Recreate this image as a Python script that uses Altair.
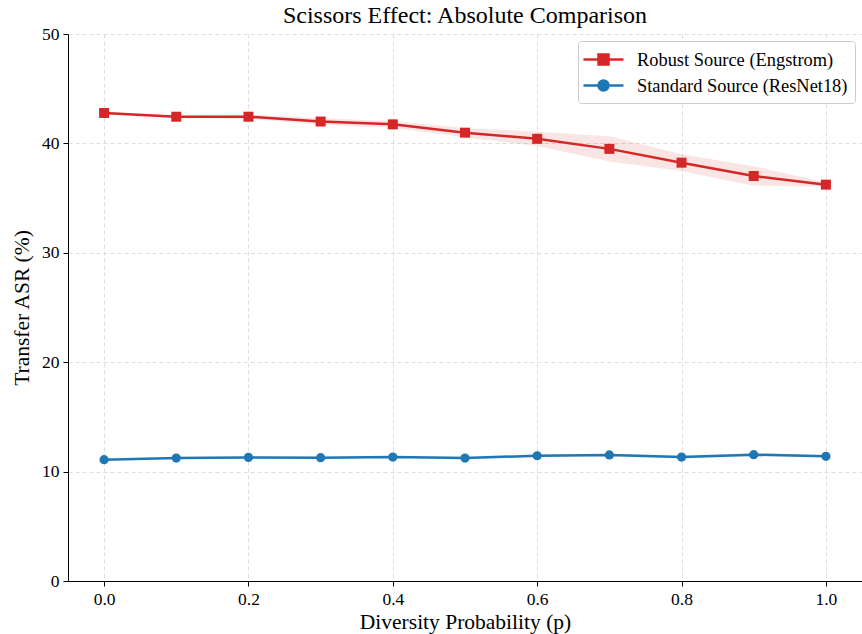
import altair as alt
import pandas as pd

p_vals = [0.0, 0.1, 0.2, 0.3, 0.4, 0.5, 0.6, 0.7, 0.8, 0.9, 1.0]
robust_mean = [42.78, 42.44, 42.44, 42.0, 41.74, 40.98, 40.42, 39.5, 38.24, 37.02, 36.23]
robust_std = [0.1, 0.12, 0.2, 0.3, 0.3, 0.42, 0.65, 1.15, 0.76, 0.88, 0.2]
standard_mean = [11.09, 11.24, 11.3, 11.27, 11.33, 11.24, 11.45, 11.52, 11.33, 11.55, 11.4]
standard_std = [0.08, 0.1, 0.1, 0.1, 0.1, 0.12, 0.12, 0.12, 0.15, 0.15, 0.12]

ROB = "Robust Source (Engstrom)"
STD = "Standard Source (ResNet18)"
series_names = [ROB, STD]
series_colors = ["#d62728", "#1f77b4"]

rows = []
for i, p in enumerate(p_vals):
    rows.append({"p": p, "series": ROB, "asr": robust_mean[i],
                 "lo": robust_mean[i] - robust_std[i], "hi": robust_mean[i] + robust_std[i]})
    rows.append({"p": p, "series": STD, "asr": standard_mean[i],
                 "lo": standard_mean[i] - standard_std[i], "hi": standard_mean[i] + standard_std[i]})
df = pd.DataFrame(rows)

FONT = "Liberation Serif"

x_enc = alt.X("p:Q", scale=alt.Scale(domain=[-0.05, 1.05], nice=False, zero=False),
              axis=alt.Axis(title="Diversity Probability (p)", values=[0, 0.2, 0.4, 0.6, 0.8, 1.0],
                            format=".1f"))
y_enc = alt.Y("asr:Q", scale=alt.Scale(domain=[0, 50], nice=False),
              axis=alt.Axis(title="Transfer ASR (%)", values=[0, 10, 20, 30, 40, 50]))
color_scale = alt.Scale(domain=series_names, range=series_colors)

base = alt.Chart(df)

bands = [
    base.transform_filter(alt.datum.series == name).mark_area(color=col, opacity=0.12).encode(
        x=x_enc,
        y=alt.Y("lo:Q", scale=alt.Scale(domain=[0, 50], nice=False)),
        y2="hi:Q",
    )
    for name, col in zip(series_names, series_colors)
]

line = base.mark_line(strokeWidth=2.5).encode(
    x=x_enc, y=y_enc,
    color=alt.Color("series:N", scale=color_scale, sort=series_names),
)

squares = base.transform_filter(alt.datum.series == ROB).mark_square(size=100, opacity=1).encode(
    x=x_enc, y=y_enc,
    color=alt.Color("series:N", scale=color_scale, sort=series_names),
)
circles = base.transform_filter(alt.datum.series == STD).mark_circle(size=85, opacity=1).encode(
    x=x_enc, y=y_enc,
    color=alt.Color("series:N", scale=color_scale, sort=series_names),
)

sq_path = "M-2,0H2M-0.5,-0.5H0.5V0.5H-0.5Z"
ci_path = "M-2,0H2M0.5,0A0.5,0.5 0 1,1 -0.5,0A0.5,0.5 0 1,1 0.5,0Z"

legend_layer = base.mark_point(filled=True, strokeWidth=2.5).encode(
    x=x_enc, y=y_enc,
    color=alt.Color("series:N", scale=color_scale, sort=series_names,
                    legend=alt.Legend(title=None, orient="top-right", offset=7,
                                      symbolOpacity=1, symbolSize=400, symbolStrokeWidth=2.5,
                                      labelOffset=22, symbolOffset=7, labelLimit=500,
                                      strokeColor="#cccccc", fillColor="white", cornerRadius=3,
                                      padding=7, rowPadding=4,
                                      labelFont=FONT, labelFontSize=18.4, labelColor="#000")),
    stroke=alt.Stroke("series:N", scale=color_scale, sort=series_names),
    shape=alt.Shape("series:N", scale=alt.Scale(domain=series_names, range=[sq_path, ci_path]),
                    sort=series_names),
    opacity=alt.Opacity("p:Q", scale=alt.Scale(domain=[0, 1], range=[0, 0]), legend=None),
)

chart = alt.layer(*bands, line, squares, circles, legend_layer).properties(
    width=794, height=547,
    title=alt.TitleParams("Scissors Effect: Absolute Comparison", font=FONT, fontSize=24,
                          fontWeight="normal", color="#000", offset=-3),
    autosize=alt.AutoSizeParams(type="none"),
    padding={"left": 68, "top": 34, "right": 0, "bottom": 53},
).configure_view(stroke=None).configure_axis(
    labelFont=FONT, labelFontSize=17.5, labelColor="#000",
    titleFont=FONT, titleFontSize=21.5, titleFontWeight="normal", titleColor="#000",
    domainColor="#000", domainWidth=1, tickColor="#000", tickSize=5,
    grid=True, gridColor="#dddddd", gridDash=[4, 3], gridWidth=1,
    labelPadding=4,
).configure_axisX(titlePadding=4).configure_axisY(titlePadding=8)

chart.save("out.html", embed_options={"renderer": "svg", "actions": False})
